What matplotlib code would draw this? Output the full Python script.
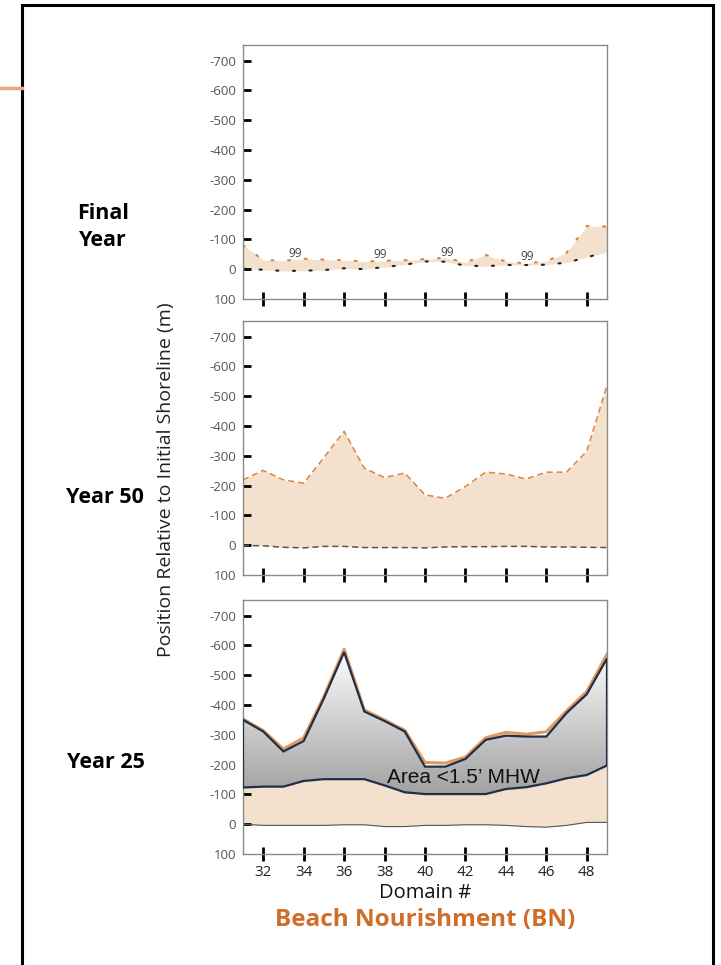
import matplotlib
matplotlib.use("Agg")
import matplotlib.pyplot as plt
import numpy as np
from matplotlib.colors import LinearSegmentedColormap
from matplotlib.patches import Polygon, Rectangle
from matplotlib.lines import Line2D

plt.rcParams["font.family"] = ["Open Sans", "DejaVu Sans"]

domain = list(range(31, 50))

# final year: shoreline and back-barrier
final_shore = [-81, -31, -28, -35, -32, -30, -26, -28, -30, -34, -38, -23, -48, -26, -19, -27, -55, -145, -143]
final_back = [-2, 2, 6, 5, 3, -3, 0, -7, -15, -26, -25, -12, -10, -14, -14, -15, -22, -40, -58]
final_labels = ["99", "99", "99", "99"]
final_label_x = [33.6, 37.8, 41.1, 45.05]
final_label_y = [-52, -49, -57, -41]

# year 50
y50_shore = [-219, -251, -219, -208, -294, -382, -258, -227, -242, -169, -157, -197, -245, -239, -222, -245, -245, -315, -536]
y50_back = [1, 2, 7, 9, 4, 4, 8, 8, 8, 9, 6, 5, 5, 4, 4, 6, 6, 7, 8]

# year 25
y25_shore = [-353, -314, -252, -290, -428, -587, -383, -350, -315, -207, -205, -225, -290, -308, -302, -310, -380, -445, -570]
y25_top = [-350, -311, -244, -279, -422, -577, -378, -346, -311, -193, -193, -219, -283, -297, -294, -294, -373, -436, -556]
y25_low = [-123, -126, -126, -145, -151, -151, -151, -130, -107, -101, -101, -101, -101, -118, -124, -137, -154, -165, -197]
y25_back = [0, 4, 4, 4, 4, 2, 2, 8, 8, 4, 4, 2, 2, 4, 8, 10, 4, -6, -6]

yticks = [-700, -600, -500, -400, -300, -200, -100, 0]
xticks = [32, 34, 36, 38, 40, 42, 44, 46, 48]

BEIGE = "#f3e0cd"
ORANGE = "#dc843f"
NAVY = "#1c3049"

W, H = 721, 965
fig = plt.figure(figsize=(W / 100, H / 100), dpi=100)


def make_ax(top_px):
    ax = fig.add_axes([243 / W, 1 - (top_px + 254) / H, 364 / W, 254 / H])
    ax.set_xlim(31, 49)
    ax.set_ylim(100, -752)
    for s in ax.spines.values():
        s.set_color("#8a8a8a")
        s.set_linewidth(1.0)
    ax.set_yticks(yticks, [str(v) for v in yticks])
    ax.set_yticks([100], ["100"], minor=True)
    ax.tick_params(axis="y", which="major", direction="in", length=5.5, width=2, color="black",
                   labelsize=9.5, labelcolor="#555555", pad=5)
    ax.tick_params(axis="y", which="minor", length=0, labelsize=9.5, labelcolor="#555555", pad=5)
    ax.set_xticks(xticks)
    ax.tick_params(axis="x", direction="inout", length=9.5, width=2, color="black",
                   labelsize=11, labelcolor="#222222", pad=3)
    ax.tick_params(axis="x", labelbottom=False)
    return ax


# top panel: final year
ax1 = make_ax(45)
ax1.fill_between(domain, final_back, final_shore, color=BEIGE, lw=0, zorder=1)
ax1.plot(domain, final_shore, color=ORANGE, lw=1.5, ls=(0, (1, 7)), dash_capstyle="round", zorder=2)
ax1.plot(domain, final_back, color="#222222", lw=1.5, ls=(0, (1, 7)), dash_capstyle="round", zorder=2)
for lab, lx, ly in zip(final_labels, final_label_x, final_label_y):
    ax1.text(lx, ly, lab, fontsize=8.5, color="#444444", ha="center", va="center", zorder=3)

# middle panel: year 50
ax2 = make_ax(321)
ax2.fill_between(domain, y50_back, y50_shore, color=BEIGE, lw=0, zorder=1)
ax2.plot(domain, y50_shore, color=ORANGE, lw=1.1, ls=(0, (4, 2.5)), zorder=2)
ax2.plot(domain, y50_back, color="#555555", lw=1.1, ls=(0, (4, 2.5)), zorder=2)

# bottom panel: year 25
ax3 = make_ax(600)
ax3.fill_between(domain, y25_back, y25_low, color=BEIGE, lw=0, zorder=1)
ax3.plot(domain, y25_back, color="#555555", lw=0.8, zorder=2)
ax3.plot(domain, y25_shore, color="#e3995c", lw=2.2, zorder=2)
poly_xy = list(zip(domain, y25_top)) + list(zip(domain[::-1], y25_low[::-1]))
poly = Polygon(poly_xy, closed=True, facecolor="none", edgecolor=NAVY, lw=1.6, zorder=4)
ax3.add_patch(poly)
grad = np.linspace(1, 0, 256).reshape(-1, 1)
cmap = LinearSegmentedColormap.from_list("g", ["#ffffff", "#a0a0a0"])
img = ax3.imshow(grad, cmap=cmap, extent=(31, 49, -95, -590), origin="lower", aspect="auto", zorder=3)
img.set_clip_path(poly)
ax3.set_xlim(31, 49)
ax3.set_ylim(100, -752)
ax3.text(38.1, -158, "Area <1.5\u2019 MHW", family=["Liberation Sans", "DejaVu Sans"], fontsize=15,
         color="#111111", ha="left", va="center", zorder=5)
ax3.tick_params(axis="x", labelbottom=True)

# row labels and titles
fig.text(103 / W, 1 - 227 / H, "Final\nYear", fontsize=15.5, fontweight="bold", ha="center", va="center",
         linespacing=1.4)
fig.text(105 / W, 1 - 497 / H, "Year 50", fontsize=15.5, fontweight="bold", ha="center", va="center")
fig.text(106 / W, 1 - 762 / H, "Year 25", fontsize=15.5, fontweight="bold", ha="center", va="center")
fig.text(166 / W, 1 - 480 / H, "Position Relative to Initial Shoreline (m)", fontsize=14, rotation=90,
         ha="center", va="center", color="#222222")
fig.text(425 / W, 1 - 893 / H, "Domain #", fontsize=14.5, ha="center", va="center", color="#111111")
fig.text(425 / W, 1 - 920 / H, "Beach Nourishment (BN)", fontsize=17.5, fontweight="bold", ha="center",
         va="center", color="#cf6d29")

# outer frame and orange stub
fig.add_artist(Rectangle((22 / W, -0.05), (713 - 22) / W, 1.05 - 5 / H, transform=fig.transFigure,
                         fill=False, edgecolor="black", lw=2.2))
fig.add_artist(Line2D([0, 22 / W], [1 - 88 / H, 1 - 88 / H], transform=fig.transFigure,
                      color="#f0a47c", lw=2.5))

fig.savefig("out.png", dpi=100)
